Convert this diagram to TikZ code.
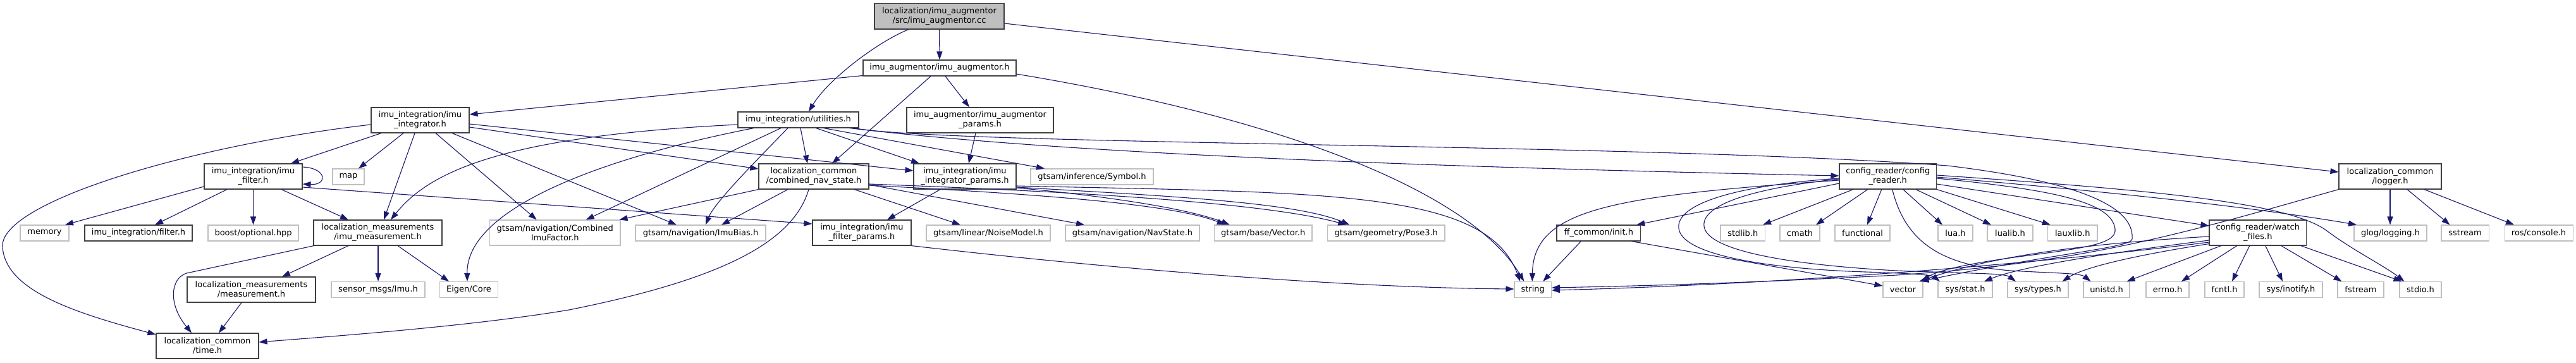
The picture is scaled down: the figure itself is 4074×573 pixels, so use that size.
\documentclass[tikz,border=0pt]{standalone}
\usepackage{fontspec}
\setmainfont{DejaVu Sans}
\usetikzlibrary{arrows.meta,calc}
\definecolor{edgec}{HTML}{191970}
\definecolor{extc}{HTML}{BFBFBF}
\definecolor{docc}{HTML}{404040}
\newcommand{\dgfont}{\fontsize{13}{15}\selectfont}
\begin{document}
\begin{tikzpicture}[x=1pt,y=-1pt,
  doc/.style={draw=docc,line width=1.1pt,fill=white,inner sep=0pt,align=center,font=\dgfont,text=black},
  ext/.style={doc,draw=extc},
  dep/.style={draw=edgec,line width=1.1pt,-{Triangle[length=13pt,width=9pt]}}]
\useasboundingbox[fill=white] (0,0) rectangle (4074,573);
% row 0-1
\node[doc,fill=extc,minimum width=205pt,minimum height=40.5pt] (top) at (1485.5,25.75) {localization/imu\_augmentor\\/src/imu\_augmentor.cc};
\node[doc,minimum width=242pt,minimum height=25pt] (aug) at (1486,107.5) {imu\_augmentor/imu\_augmentor.h};
\node[doc,minimum width=155pt,minimum height=40pt] (integ) at (664.5,190) {imu\_integration/imu\\\_integrator.h};
\node[doc,minimum width=191pt,minimum height=25pt] (util) at (1262.5,189.5) {imu\_integration/utilities.h};
\node[doc,minimum width=232pt,minimum height=40pt] (augp) at (1550,190) {imu\_augmentor/imu\_augmentor\\\_params.h};
% row 2
\node[doc,minimum width=155pt,minimum height=40pt] (filt) at (400.5,279) {imu\_integration/imu\\\_filter.h};
\node[ext,minimum width=50pt,minimum height=25pt] (map) at (551,279.5) {map};
\node[doc,minimum width=174pt,minimum height=40pt] (cns) at (1287,279) {localization\_common\\/combined\_nav\_state.h};
\node[doc,minimum width=162pt,minimum height=40pt] (intp) at (1526,279) {imu\_integration/imu\\\_integrator\_params.h};
\node[ext,minimum width=194pt,minimum height=25pt] (sym) at (1727,279.5) {gtsam/inference/Symbol.h};
\node[doc,minimum width=153.5pt,minimum height=40pt] (cfg) at (2985.75,279) {config\_reader/config\\\_reader.h};
\node[doc,minimum width=162pt,minimum height=40pt] (log) at (3780,279) {localization\_common\\/logger.h};
% row 3
\node[ext,minimum width=77pt,minimum height=25pt] (mem) at (70.5,368.5) {memory};
\node[doc,minimum width=170pt,minimum height=25pt] (filth) at (219,368.5) {imu\_integration/filter.h};
\node[ext,minimum width=143pt,minimum height=25pt] (boost) at (400.5,368.5) {boost/optional.hpp};
\node[doc,minimum width=203pt,minimum height=40pt] (imeas) at (597.5,368) {localization\_measurements\\/imu\_measurement.h};
\node[ext,minimum width=206.5pt,minimum height=40pt] (cif) at (877.75,368) {gtsam/navigation/Combined\\ImuFactor.h};
\node[ext,minimum width=206pt,minimum height=25pt] (bias) at (1108,368.5) {gtsam/navigation/ImuBias.h};
\node[doc,minimum width=156pt,minimum height=40pt] (ifp) at (1363,368) {imu\_integration/imu\\\_filter\_params.h};
\node[ext,minimum width=196pt,minimum height=25pt] (noise) at (1563,368.5) {gtsam/linear/NoiseModel.h};
\node[ext,minimum width=212pt,minimum height=25pt] (nav) at (1791,368.5) {gtsam/navigation/NavState.h};
\node[ext,minimum width=154.5pt,minimum height=25pt] (vec3) at (1997.75,368.5) {gtsam/base/Vector.h};
\node[ext,minimum width=185.5pt,minimum height=25pt] (pose) at (2192.25,368.5) {gtsam/geometry/Pose3.h};
\node[doc,minimum width=132.6pt,minimum height=25pt] (init) at (2528.3,368.5) {ff\_common/init.h};
\node[ext,minimum width=70.5pt,minimum height=25pt] (stdlib) at (2756.25,368.5) {stdlib.h};
\node[ext,minimum width=63pt,minimum height=25pt] (cmath) at (2846.5,368.5) {cmath};
\node[ext,minimum width=87pt,minimum height=25pt] (functional) at (2945.5,368.5) {functional};
\node[ext,minimum width=55pt,minimum height=25pt] (lua) at (3092.5,368.5) {lua.h};
\node[ext,minimum width=72pt,minimum height=25pt] (lualib) at (3179,368.5) {lualib.h};
\node[ext,minimum width=78.5pt,minimum height=25pt] (lauxlib) at (3277.75,368.5) {lauxlib.h};
\node[doc,minimum width=153.5pt,minimum height=40pt] (watch) at (3570.75,368) {config\_reader/watch\\\_files.h};
\node[ext,minimum width=115pt,minimum height=25pt] (glog) at (3780.5,368.5) {glog/logging.h};
\node[ext,minimum width=75pt,minimum height=25pt] (sstream) at (3898.5,368.5) {sstream};
\node[ext,minimum width=108pt,minimum height=25pt] (ros) at (4015,368.5) {ros/console.h};
% row 4
\node[doc,minimum width=203pt,minimum height=40pt] (meas) at (397.5,458) {localization\_measurements\\/measurement.h};
\node[ext,minimum width=148pt,minimum height=25pt] (imu) at (598,458) {sensor\_msgs/Imu.h};
\node[ext,minimum width=92pt,minimum height=25pt] (eigen) at (741.5,458) {Eigen/Core};
\node[ext,minimum width=58.5pt,minimum height=25pt] (string) at (2424.25,458) {string};
\node[ext,minimum width=63pt,minimum height=25pt] (vector) at (3009.5,458) {vector};
\node[ext,minimum width=86pt,minimum height=25pt] (sysstat) at (3108,458) {sys/stat.h};
\node[ext,minimum width=96pt,minimum height=25pt] (systypes) at (3223,458) {sys/types.h};
\node[ext,minimum width=73pt,minimum height=25pt] (unistd) at (3331.5,458) {unistd.h};
\node[ext,minimum width=68pt,minimum height=25pt] (errno) at (3428,458) {errno.h};
\node[ext,minimum width=62pt,minimum height=25pt] (fcntl) at (3518,458) {fcntl.h};
\node[ext,minimum width=100pt,minimum height=25pt] (inotify) at (3623,458) {sys/inotify.h};
\node[ext,minimum width=73pt,minimum height=25pt] (fstream) at (3733.5,458) {fstream};
\node[ext,minimum width=66pt,minimum height=25pt] (stdio) at (3828,458) {stdio.h};
% row 5
\node[doc,minimum width=162pt,minimum height=40pt] (time) at (328,547) {localization\_common\\/time.h};

% edges: top
\draw[dep] (top.south) -- (aug.north);
\draw[dep] ($(top.south)+(-48.5,0)$) .. controls (1390,65) and (1310,125) .. ($(util.north)+(16.5,0)$);
\draw[dep] ($(top.east)+(0,11.25)$) -- ($(log.west)+(0,-7)$);
% aug
\draw[dep] ($(aug.south west)+(0,-1)$) -- ($(integ.east)+(0,-9)$);
\draw[dep] ($(aug.south)+(-14,0)$) -- ($(cns.north)+(29,0)$);
\draw[dep] ($(aug.south)+(9,0)$) -- ($(augp.north)+(-17,0)$);
\draw[dep] ($(aug.east)+(0,9.5)$) .. controls (2050,190) and (2330,310) .. ($(string.north)+(-14,0)$);
\draw[dep] ($(augp.south)+(-7,0)$) -- ($(intp.north)+(6,0)$);
% integ
\draw[dep] ($(integ.west)+(0,7)$) .. controls (300,230) and (0,320) .. (4,390) .. controls (8,460) and (120,495) .. ($(time.west)+(0,-18)$);
\draw[dep] ($(integ.south)+(-61.5,0)$) -- ($(filt.north)+(59.5,0)$);
\draw[dep] ($(integ.south)+(-26.5,0)$) -- ($(map.north)+(16,0)$);
\draw[dep] ($(integ.south)+(-8.5,0)$) -- ($(imeas.north)+(9.5,0)$);
\draw[dep] ($(integ.south)+(24.5,0)$) -- ($(cif.north)+(-29,0)$);
\draw[dep] ($(integ.south)+(50.5,0)$) -- ($(bias.north)+(-38,0)$);
\draw[dep] ($(integ.east)+(0,11)$) -- ($(cns.west)+(0,-12)$);
\draw[dep] ($(integ.east)+(0,6)$) -- ($(intp.west)+(0,-9)$);
% util
\draw[dep] ($(util.west)+(0,7.5)$) .. controls (800,215) and (680,270) .. ($(imeas.north)+(20.5,0)$);
\draw[dep] ($(util.south)+(-70.5,0)$) .. controls (950,250) and (737,330) .. ($(eigen.north)+(-2.5,0)$);
\draw[dep] ($(util.south)+(-27.5,0)$) -- ($(cif.north)+(49,0)$);
\draw[dep] ($(util.south)+(-16.5,0)$) .. controls (1200,250) and (1130,320) .. ($(bias.north)+(8,0)$);
\draw[dep] ($(util.south)+(3.5,0)$) -- ($(cns.north)+(-10,0)$);
\draw[dep] ($(util.south)+(28,0)$) -- ($(intp.north)+(-72,0)$);
\draw[dep] ($(util.south)+(40,0)$) -- ($(sym.north)+(-75,0)$);
\draw[dep] ($(util.south east)+(-15,0)$) .. controls (1700,245) and (2300,265) .. ($(cfg.west)+(0,-1)$);
\draw[dep] ($(util.south east)+(-8,0)$) .. controls (1500,230) and (2600,226) .. (3080,262) .. controls (3330,292) and (3375,340) .. (3372,378) .. controls (3370,392) and (3250,400) .. ($(vector.north)+(28,0)$);
% cns
\draw[dep] (cns.south west) -- ($(cif.north east)+(-2,0)$);
\draw[dep] ($(cns.south)+(-41,0)$) -- ($(bias.north)+(33,0)$);
\draw[dep] ($(cns.south)+(-8,0)$) .. controls (1255,380) and (1150,440) .. (900,490) .. controls (750,515) and (550,530) .. ($(time.east)+(0,-6)$);
\draw[dep] ($(cns.south)+(64,0)$) -- ($(noise.north)+(-44,0)$);
\draw[dep] ($(cns.east)+(0,13)$) -- ($(nav.north)+(-76,0)$);
\draw[dep] ($(cns.east)+(0,14)$) .. controls (1600,305) and (1850,320) .. ($(vec3.north)+(-60,0)$);
\draw[dep] ($(cns.east)+(0,12)$) .. controls (1700,303) and (2000,320) .. ($(pose.north)+(-63,0)$);
% intp
\draw[dep] ($(intp.south)+(-39,0)$) -- ($(ifp.north)+(40,0)$);
\draw[dep] ($(intp.east)+(0,18)$) .. controls (1750,310) and (1880,330) .. ($(vec3.north)+(-53,0)$);
\draw[dep] ($(intp.east)+(0,17)$) .. controls (1850,310) and (2050,320) .. ($(pose.north)+(-58,0)$);
\draw[dep] ($(intp.east)+(0,15)$) .. controls (2100,305) and (2350,300) .. ($(string.north)+(-20,0)$);
\draw[dep] (ifp.south east) .. controls (1800,430) and (2150,455) .. ($(string.west)+(0,-1)$);
% filt
\draw[dep] ($(filt.east)+(0,-15)$) .. controls (518,266) and (518,293) .. ($(filt.east)+(0,12)$);
\draw[dep] ($(filt.west)+(0,16)$) -- ($(mem.north)+(32.5,0)$);
\draw[dep] ($(filt.south)+(-41.5,0)$) -- ($(filth.north)+(26,0)$);
\draw[dep] (filt.south) -- (boost.north);
\draw[dep] ($(filt.south)+(44.5,0)$) -- ($(imeas.north)+(-46.5,0)$);
\draw[dep] ($(filt.east)+(0,17)$) -- ($(ifp.west)+(0,-14)$);
% imeas, meas
\draw[dep] ($(imeas.south west)+(1,0)$) -- (295,432) .. controls (270,440) and (265,480) .. ($(time.north)+(-25,0)$);
\draw[dep] ($(imeas.south)+(-46.5,0)$) -- ($(meas.north)+(48.5,0)$);
\draw[dep] ($(imeas.south)+(0.5,0)$) -- (imu.north);
\draw[dep] ($(imeas.south)+(31.5,0)$) -- ($(eigen.north)+(-31.5,0)$);
\draw[dep] ($(meas.south)+(-15.5,0)$) -- ($(time.north)+(18,0)$);
% cfg
\draw[dep] ($(cfg.west)+(0,11)$) -- ($(init.north)+(60,0)$);
\draw[dep] ($(cfg.west)+(0,6)$) .. controls (2550,310) and (2425,330) .. ($(string.north)+(-1,0)$);
\draw[dep] ($(cfg.south)+(-55,0)$) -- ($(stdlib.north east)+(-4,0)$);
\draw[dep] ($(cfg.south)+(-32,0)$) -- ($(cmath.north)+(25.5,0)$);
\draw[dep] ($(cfg.south)+(-10,0)$) -- ($(functional.north)+(7.5,0)$);
\draw[dep] ($(cfg.south)+(24,0)$) -- ($(lua.north)+(-20.5,0)$);
\draw[dep] ($(cfg.south)+(44,0)$) -- ($(lualib.north)+(-30,0)$);
\draw[dep] (cfg.south east) -- ($(lauxlib.north)+(-35,0)$);
\draw[dep] ($(cfg.south)+(7,0)$) .. controls (3015,390) and (3080,420) .. (3180,428) .. controls (3250,432) and (3290,432) .. ($(unistd.north)+(-25,0)$);
\draw[dep] ($(cfg.west)+(0,3)$) .. controls (2720,295) and (2640,330) .. (2657,368) .. controls (2675,405) and (2800,425) .. (2950,430) .. controls (3020,432) and (3055,435) .. ($(sysstat.north)+(-40,0)$);
\draw[dep] ($(cfg.west)+(0,4)$) .. controls (2750,300) and (2685,330) .. (2696,362) .. controls (2710,400) and (2850,420) .. (3000,428) .. controls (3130,433) and (3170,432) .. ($(systypes.north)+(-35,0)$);
\draw[dep] ($(cfg.east)+(0,3)$) .. controls (3250,300) and (3340,320) .. (3345,362) .. controls (3348,385) and (3300,392) .. (3200,405) .. controls (3100,418) and (3060,430) .. ($(vector.north)+(30,0)$);
\draw[dep] ($(cfg.east)+(0,1)$) .. controls (3300,300) and (3550,325) .. ($(glog.north)+(-53.5,0)$);
\draw[dep] ($(cfg.east)+(0,-2)$) .. controls (3400,300) and (3620,320) .. (3680,365) .. controls (3720,395) and (3770,420) .. ($(stdio.north west)+(8,0)$);
\draw[dep] ($(cfg.east)+(0,12)$) -- ($(watch.west)+(0,-11)$);
% init
\draw[dep] ($(init.south)+(-28,0)$) -- ($(string.north)+(16,0)$);
\draw[dep] ($(init.south)+(52,0)$) -- ($(vector.west)+(0,-6)$);
% watch
\draw[dep] ($(watch.south)+(-33,0)$) -- ($(errno.north)+(22,0)$);
\draw[dep] ($(watch.south)+(-13,0)$) -- ($(fcntl.north)+(12,0)$);
\draw[dep] ($(watch.south)+(12,0)$) -- ($(inotify.north)+(-13,0)$);
\draw[dep] ($(watch.south)+(37,0)$) -- ($(fstream.north)+(-30,0)$);
\draw[dep] ($(watch.south)+(68,0)$) -- ($(stdio.north west)+(4,0)$);
\draw[dep] ($(watch.south)+(-58,0)$) -- ($(unistd.north east)+(-5,0)$);
\draw[dep] ($(watch.south west)+(0,-3)$) .. controls (3400,400) and (3300,420) .. ($(systypes.north east)+(-10,0)$);
\draw[dep] ($(watch.west)+(0,12)$) .. controls (3350,398) and (3200,420) .. ($(sysstat.north)+(30,0)$);
\draw[dep] ($(watch.west)+(0,6)$) .. controls (3300,385) and (3150,405) .. ($(vector.north)+(26,0)$);
\draw[dep] ($(watch.west)+(0,15)$) .. controls (3200,420) and (2800,450) .. ($(string.east)+(0,1)$);
% log
\draw[dep] (log.south) -- ($(glog.north)+(-0.5,0)$);
\draw[dep] ($(log.south)+(27,0)$) -- ($(sstream.north)+(-24,0)$);
\draw[dep] ($(log.south)+(54,0)$) -- ($(ros.north)+(-39,0)$);
\draw[dep] (log.south west) .. controls (3450,370) and (3300,415) .. (3000,435) .. controls (2750,448) and (2600,452) .. ($(string.east)+(0,-3)$);
\end{tikzpicture}
\end{document}
